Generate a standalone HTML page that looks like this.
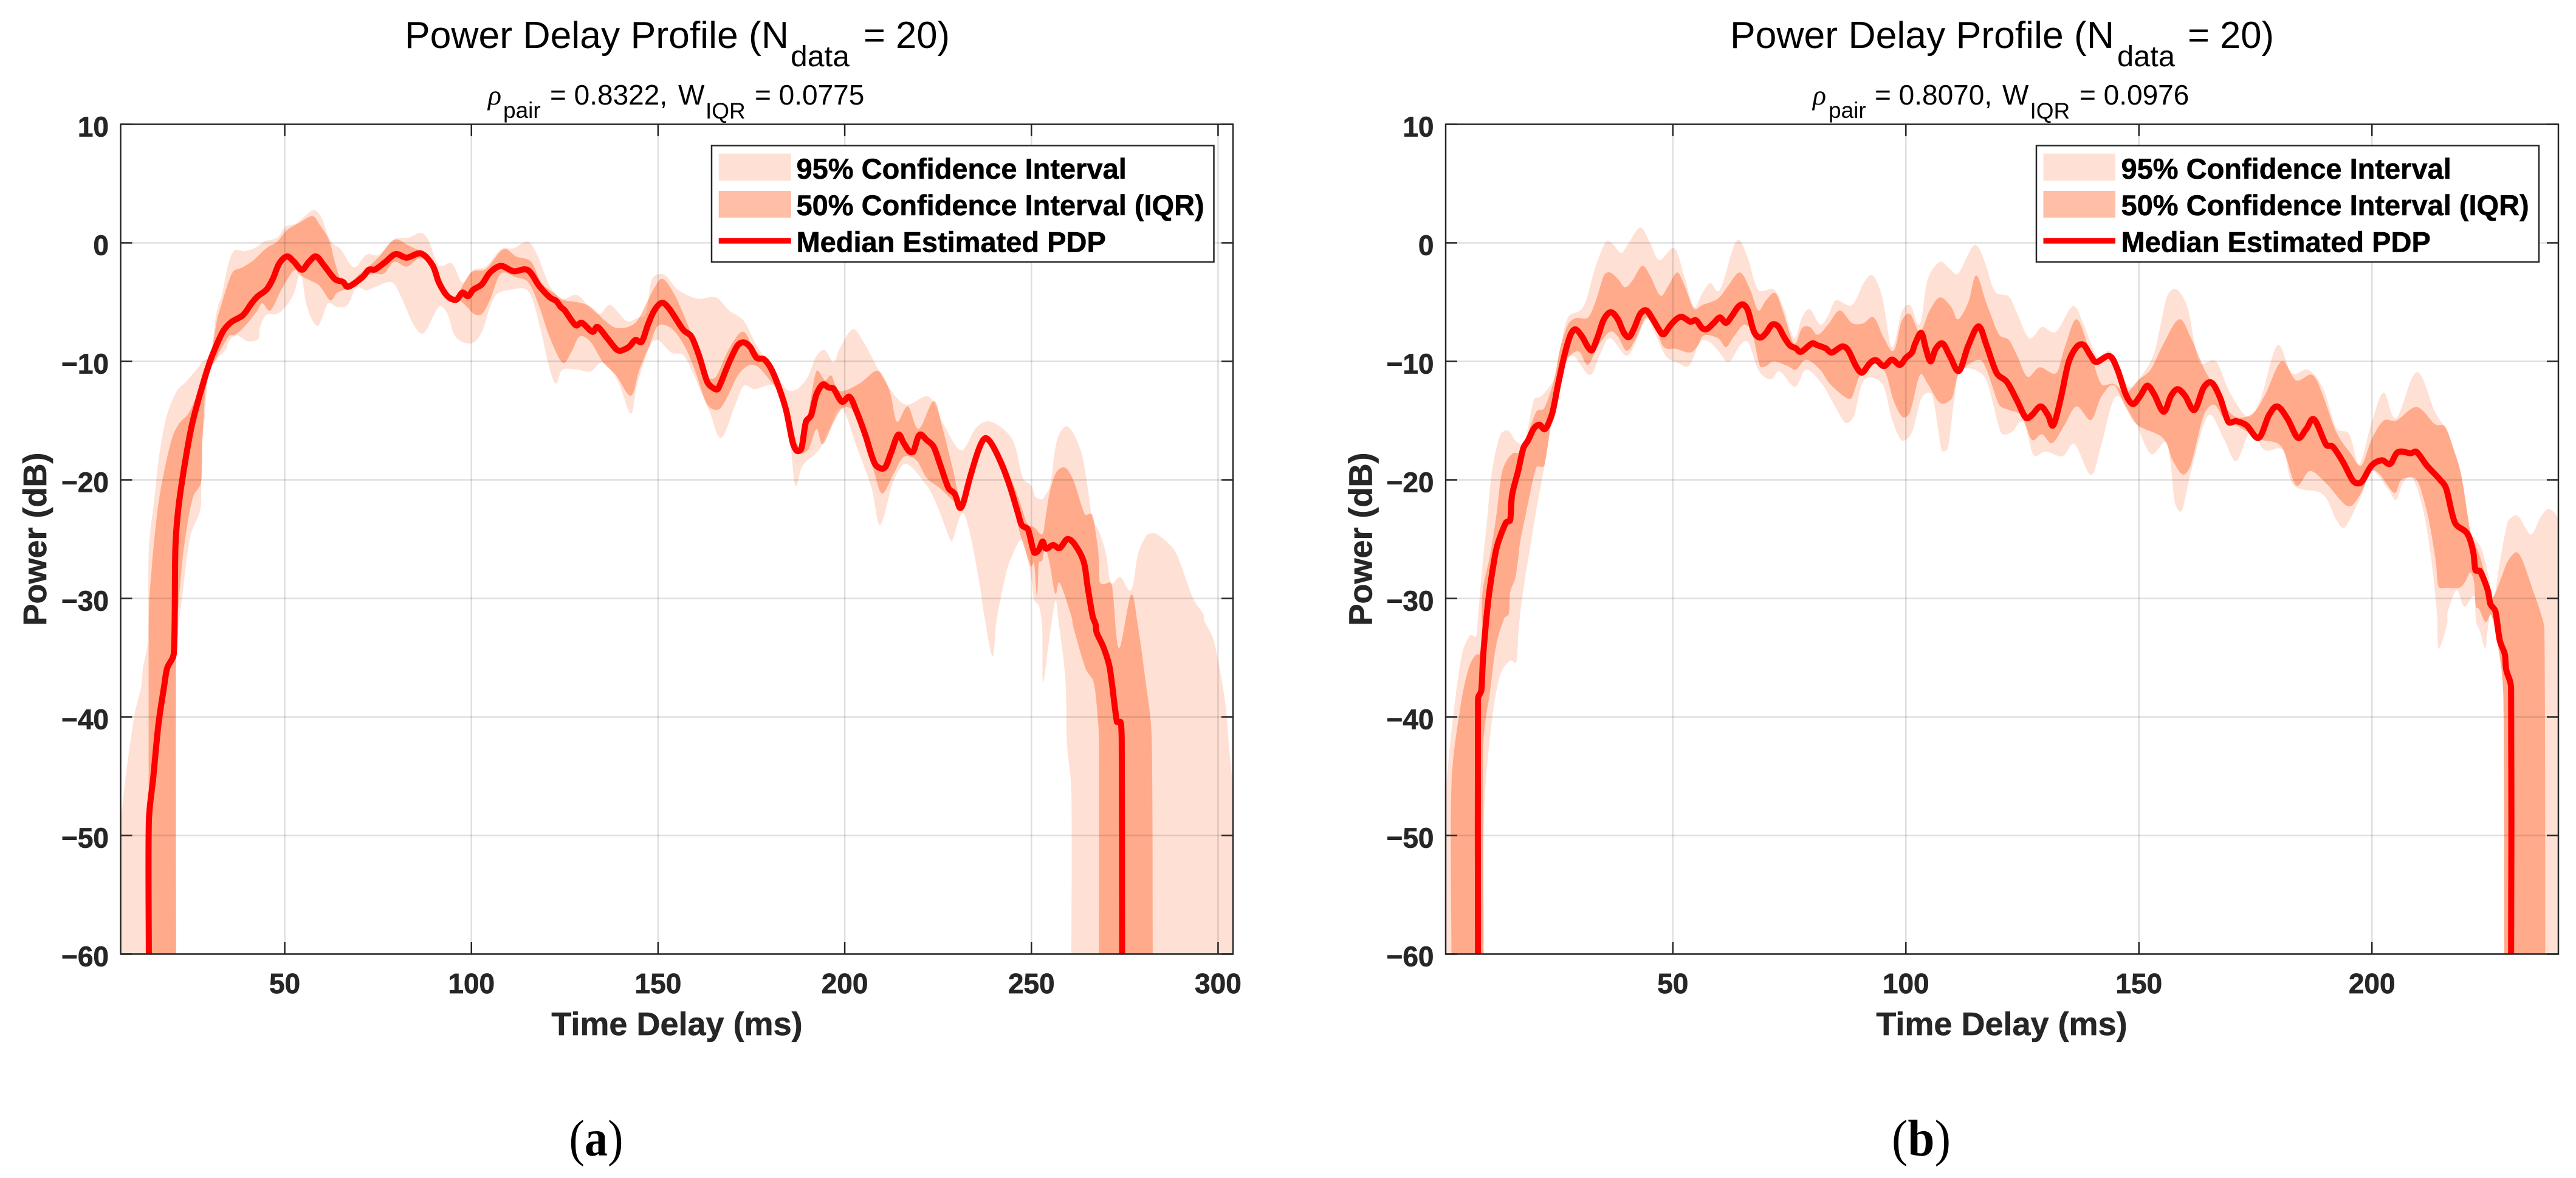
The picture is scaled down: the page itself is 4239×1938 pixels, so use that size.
<!DOCTYPE html>
<html lang="en">
<head>
<meta charset="utf-8">
<title>Power Delay Profile</title>
<style>
html,body{margin:0;padding:0;background:#fff;}
#figure{display:block;}
text{font-family:"Liberation Sans",sans-serif;}
.tick-label{font-weight:bold;font-size:46px;fill:#262626;stroke:#262626;stroke-width:0.7px;}
.axis-label{font-weight:bold;font-size:54px;fill:#262626;stroke:#262626;stroke-width:0.6px;}
.title{font-size:62px;fill:#000;}
.title-sub{font-size:48px;fill:#000;}
.subtitle{font-size:46px;fill:#000;}
.subtitle-sub{font-size:37px;fill:#000;}
.legend-text{font-weight:bold;font-size:47px;fill:#000;stroke:#000;stroke-width:0.6px;}
.caption{font-family:"Liberation Serif",serif;font-size:85px;fill:#000;}
</style>
</head>
<body>
<svg id="figure" xmlns="http://www.w3.org/2000/svg" width="4239" height="1938" viewBox="0 0 4239 1938">
<rect x="0" y="0" width="4239" height="1938" fill="#fff"/>

<g id="panel-a">
  <g id="panel-a-plot"></g>
  <text class="title" x="666" y="79" textLength="632" lengthAdjust="spacingAndGlyphs">Power Delay Profile (N</text>
  <text class="title-sub" x="1301" y="109" textLength="97" lengthAdjust="spacingAndGlyphs">data</text>
  <text class="title" x="1421" y="79" textLength="142" lengthAdjust="spacingAndGlyphs">= 20)</text>
  <text class="subtitle" x="803" y="172" font-style="italic" style="font-family:'Liberation Serif',serif">ρ</text>
  <text class="subtitle-sub" x="828" y="194">pair</text>
  <text class="subtitle" x="905" y="172">= 0.8322,</text>
  <text class="subtitle" x="1116" y="172">W</text>
  <text class="subtitle-sub" x="1161" y="195">IQR</text>
  <text class="subtitle" x="1242" y="172">= 0.0775</text>
  <text class="axis-label" x="1114" y="1703" text-anchor="middle">Time Delay (ms)</text>
  <text class="axis-label" x="0" y="0" text-anchor="middle" transform="translate(76 887) rotate(-90)">Power (dB)</text>
  <g>
    <rect x="1171" y="239.5" width="826.5" height="191.5" fill="#fff" stroke="#262626" stroke-width="2.5"/>
    <rect x="1182.7" y="252.7" width="119" height="44.6" fill="#ff4500" fill-opacity="0.17"/>
    <text class="legend-text" x="1310.5" y="294">95% Confidence Interval</text>
    <rect x="1182.7" y="314" width="119" height="44" fill="#ff4500" fill-opacity="0.35"/>
    <text class="legend-text" x="1310.5" y="354">50% Confidence Interval (IQR)</text>
    <rect x="1182.7" y="391.7" width="119" height="9" fill="#ff0000"/>
    <text class="legend-text" x="1310.5" y="414.5">Median Estimated PDP</text>
  </g>
  <text class="caption" x="936.5" y="1901" textLength="89" lengthAdjust="spacingAndGlyphs">(<tspan font-weight="bold">a</tspan>)</text>
</g>

<g id="panel-b">
  <g id="panel-b-plot"></g>
  <text class="title" x="2847" y="79" textLength="632" lengthAdjust="spacingAndGlyphs">Power Delay Profile (N</text>
  <text class="title-sub" x="3484" y="109" textLength="95" lengthAdjust="spacingAndGlyphs">data</text>
  <text class="title" x="3600" y="79" textLength="142" lengthAdjust="spacingAndGlyphs">= 20)</text>
  <text class="subtitle" x="2983" y="172" font-style="italic" style="font-family:'Liberation Serif',serif">ρ</text>
  <text class="subtitle-sub" x="3009" y="194">pair</text>
  <text class="subtitle" x="3085" y="172">= 0.8070,</text>
  <text class="subtitle" x="3295" y="172">W</text>
  <text class="subtitle-sub" x="3340.5" y="195">IQR</text>
  <text class="subtitle" x="3422" y="172">= 0.0976</text>
  <text class="axis-label" x="3294" y="1703" text-anchor="middle">Time Delay (ms)</text>
  <text class="axis-label" x="0" y="0" text-anchor="middle" transform="translate(2257.5 887) rotate(-90)">Power (dB)</text>
  <g>
    <rect x="3351" y="239.5" width="827" height="191.5" fill="#fff" stroke="#262626" stroke-width="2.5"/>
    <rect x="3362.5" y="252.7" width="118.5" height="44.6" fill="#ff4500" fill-opacity="0.17"/>
    <text class="legend-text" x="3490.5" y="294">95% Confidence Interval</text>
    <rect x="3362.5" y="314" width="118.5" height="44" fill="#ff4500" fill-opacity="0.35"/>
    <text class="legend-text" x="3490.5" y="354">50% Confidence Interval (IQR)</text>
    <rect x="3362.5" y="391.7" width="118.5" height="9" fill="#ff0000"/>
    <text class="legend-text" x="3490.5" y="414.5">Median Estimated PDP</text>
  </g>
  <text class="caption" x="3113" y="1901" textLength="97" lengthAdjust="spacingAndGlyphs">(<tspan font-weight="bold">b</tspan>)</text>
</g>
</svg>

<script>
// Tick labels (ms, dB)
const xTicksA = [50,100,150,200,250,300];
const xTicksB = [50,100,150,200];
const yTicks = [10,0,-10,-20,-30,-40,-50,-60];

// Panel (a) series: [time ms, power dB]
const medianA = [[13.6,-60],[13.6,-48.9],[14.8,-45.05],[16.2,-40.55],[17.7,-37.4],[18.5,-35.9],[20.3,-34.6],[20.7,-25.8],[21.5,-22.4],[23.1,-18.9],[25,-15.55],[26.9,-13.2],[28,-12],[29.3,-10.65],[30.7,-9.4],[33.4,-7.5],[35.6,-6.7],[38.8,-6.1],[41.1,-5.1],[42.8,-4.5],[45.1,-3.95],[46.8,-3.05],[48.5,-1.75],[50.6,-1.15],[52.5,-1.6],[54.6,-2.27],[56.5,-1.6],[58.4,-1.15],[60.5,-1.9],[63.4,-3.05],[65.6,-3.3],[67,-3.7],[70.8,-2.9],[72.5,-2.27],[74.2,-2.25],[77,-1.6],[79.7,-0.95],[82.7,-1.25],[86.5,-0.9],[89.6,-1.9],[91.3,-3.35],[93.6,-4.5],[95.9,-4.8],[97.6,-4.2],[99.1,-4.5],[100.5,-3.95],[102.8,-3.5],[105,-2.5],[107.9,-1.95],[111.3,-2.4],[115.1,-2.3],[118.2,-3.65],[121,-4.6],[122.7,-4.9],[123.9,-5.4],[125,-5.7],[127.9,-6.95],[129.6,-6.75],[132.4,-7.5],[133.8,-7.1],[136.4,-8.05],[138.7,-8.95],[139.9,-9.1],[142.1,-8.8],[143.9,-8.2],[145.6,-8.35],[147.3,-6.9],[149,-5.7],[151,-5.06],[153,-5.56],[156.7,-7.33],[158.9,-7.9],[161,-9.54],[163.2,-11.75],[165,-12.3],[166.1,-12.3],[169,-10.1],[171.3,-8.65],[173,-8.4],[174.7,-8.8],[176.4,-9.7],[178.4,-9.83],[180.4,-10.7],[182.7,-12.5],[184.4,-14.25],[186.1,-16.9],[187.2,-17.55],[188.4,-17.35],[189.6,-15.1],[191,-14.55],[192.4,-12.8],[194.1,-11.95],[195.6,-12.2],[197,-12.3],[199.2,-13.4],[201.3,-13],[203.2,-14.25],[205.5,-16.2],[208.1,-18.65],[210.6,-19],[212.3,-17.8],[214.3,-16.2],[215.8,-16.9],[217.3,-17.6],[218.4,-17.6],[220,-16.2],[222,-16.65],[223.8,-17.2],[225.5,-18.65],[227.8,-20.7],[229.5,-21.2],[230.8,-22.35],[231.8,-21.9],[233.5,-19.85],[235.8,-17.5],[237.5,-16.5],[239.2,-16.9],[242,-18.65],[244.2,-20.5],[246.4,-22.8],[247.4,-23.8],[249.1,-24.2],[250.7,-26.1],[252,-25.9],[253,-25.2],[253.9,-25.8],[255.8,-25.5],[257.6,-25.75],[259.6,-25],[261.5,-25.4],[264,-26.9],[265.1,-29.1],[266.4,-31.5],[267.2,-32.2],[267.5,-32.9],[269.4,-34.2],[271,-35.9],[272.9,-40.4],[273.9,-40.45],[274.2,-42.1],[274.3,-60]];

const upper95A = [[6.04,-60],[6.04,-49],[6.3,-48.2],[7.4,-45.05],[9.7,-39.9],[11.6,-37.4],[12,-35.9],[13.3,-33.6],[13.6,-25.8],[15,-21.8],[16.3,-18.1],[18.2,-14.8],[20.9,-12.6],[23.6,-11.7],[26.3,-10.7],[28,-10.05],[30.2,-9.4],[31.5,-6.3],[32.3,-5.15],[33.1,-4.5],[34.8,-1.9],[36.5,-0.65],[39.4,-0.7],[42.2,-0.4],[44.5,0.1],[48,0.45],[50.2,1.35],[53.1,1.65],[55.9,2.4],[58,2.75],[59.9,2.1],[62.2,0.2],[65,-0.55],[68.5,-2.05],[71.9,-1],[75.3,-1],[79.3,0.3],[83.3,0.45],[86.5,0.85],[88.5,0.2],[91.3,-1.9],[94.8,-1.75],[97.6,-3.35],[100.5,-2.3],[103.9,-2],[107.9,-0.55],[111.3,-0.45],[115.1,0.1],[117.6,-1],[121,-3.65],[124.4,-4.7],[128.3,-4.4],[131.9,-5.55],[134.5,-6],[137.2,-5.25],[141.6,-6.6],[144.4,-6.35],[146.7,-6],[148.4,-3.05],[151.7,-2.7],[155.3,-3.95],[160.4,-4.7],[165.5,-4.6],[169,-5.7],[173,-6.6],[176.4,-8.65],[181,-10.7],[184.4,-12.35],[187.2,-12.35],[190.1,-11.3],[192.4,-9.55],[194.7,-9.05],[197,-10.1],[198.6,-8.95],[202.1,-7.3],[205,-8.35],[209,-10.7],[211.8,-12.2],[216.4,-13.65],[222.6,-13],[226.6,-15.4],[231.2,-17.5],[235.2,-15.6],[239.2,-15.1],[244.9,-16.6],[247.7,-19.85],[250,-20.5],[251,-21.4],[252.9,-21.65],[253.3,-21.5],[255,-20.5],[256.9,-16.6],[259.7,-15.5],[263.2,-17.5],[265,-20.5],[266.2,-23.1],[268.3,-24.5],[270,-26.3],[271.3,-28.7],[273.8,-28.2],[276.7,-29.3],[278.6,-26.2],[280.8,-24.7],[282.2,-24.5],[283.8,-24.6],[287.9,-25.75],[289.8,-26.95],[293.3,-30],[296,-31.3],[296.3,-31.9],[298.7,-33.4],[300.3,-35.75],[302,-39],[302.8,-42],[304,-47],[304,-60]];

const lower95A = [[20.9,-60],[20.9,-35.9],[21.5,-32.6],[22.6,-29.7],[24.7,-24.8],[27.4,-22.5],[27.6,-20.2],[27.9,-16.9],[28.5,-15],[29.6,-11],[31.8,-9.86],[34.4,-8.9],[35,-8.3],[37.2,-7.8],[40.1,-8.3],[42.9,-8.1],[43.4,-7.1],[45,-6.1],[47.9,-6],[50.2,-5.4],[52.5,-4.25],[54.2,-2.5],[56,-5.4],[58.8,-7],[61.6,-5.1],[63.9,-5.4],[66.8,-5.25],[69.1,-3.8],[71.9,-4],[74.8,-3.65],[78.8,-3.35],[81.6,-4.85],[84.5,-6.9],[87.3,-7.6],[91.3,-5.4],[93.6,-6],[95.7,-7.9],[99.9,-8.5],[102.8,-7.5],[106.2,-4.55],[110.7,-3.95],[115.3,-4.1],[118.2,-6.9],[121,-10.7],[122.7,-11.9],[124.4,-10.7],[128.3,-10.7],[131.9,-10.85],[135.3,-10.1],[139.3,-11.75],[142.7,-14.4],[144.4,-11.9],[147.9,-8.65],[150,-8.2],[153.5,-9.25],[157,-9.55],[161,-12.2],[163.8,-14.25],[166.9,-16.45],[170.7,-13.65],[173,-12.05],[175.8,-12.35],[180.4,-12],[182.7,-12.9],[185,-15.4],[186.7,-20.45],[188.7,-18.8],[193,-17.5],[195.8,-15.7],[199.2,-13.95],[203.2,-17.2],[207.2,-20.7],[209.5,-23.8],[213,-20.15],[216.4,-18.65],[221.5,-20.3],[224.4,-21.9],[228.4,-25.15],[229,-25],[231.5,-22.8],[233.6,-24.6],[236.3,-29.1],[237.4,-31.5],[239.6,-34.9],[240.7,-31.8],[243.1,-28],[244.7,-26.5],[247.4,-25],[249.1,-26.9],[250.2,-28.75],[250.7,-30.1],[252,-30.6],[252.9,-32.5],[253.1,-37.1],[254.8,-33.4],[256.4,-30.2],[257.2,-31.8],[259.1,-36.8],[259.5,-42.1],[260.7,-46.4],[260.7,-60]];

const upper50A = [[13.6,-60],[13.6,-31.6],[14.4,-27.3],[16,-22.4],[17.7,-19.3],[19.8,-16.5],[21.7,-15.25],[24.2,-14.4],[26.3,-13],[28.6,-11.6],[30.2,-9.4],[31.2,-7.7],[32,-6.3],[33.1,-5.15],[33.7,-4.5],[36,-2.5],[38.8,-2.05],[41.7,-1.45],[45.1,-0.45],[48,0.1],[50.5,1.05],[53.7,1.65],[57.4,2.25],[59.4,1.5],[61.9,0.2],[63.4,-1.6],[65.1,-3.2],[67,-3.7],[69.6,-2.75],[71.9,-2.2],[75.3,-1.15],[79.3,0.25],[83.3,-0.25],[86.8,-0.85],[89.6,-1.9],[91.3,-3.35],[93.6,-4.4],[95.9,-4.5],[99.9,-2.5],[103.9,-2.2],[108.5,-0.55],[112,-1.15],[116,-1.6],[118.7,-3.35],[122.2,-4.25],[124.4,-4.8],[129,-5.05],[131.9,-5.4],[135.9,-6.6],[139.3,-7.2],[143.9,-6.75],[147.3,-4.85],[149,-3.8],[151.3,-3.05],[154.7,-4.55],[158.7,-7.5],[161,-9.54],[163.2,-11.3],[165.5,-11.3],[169,-8.95],[172.7,-7.5],[175.8,-8.95],[180.4,-10.55],[183.2,-12.65],[185,-14.25],[187.8,-17.2],[190.1,-14.55],[192.4,-10.85],[194.7,-11.6],[196.4,-11.2],[198.6,-12.5],[203.8,-11.9],[208.4,-10.8],[210.6,-11.45],[212.3,-12.8],[214,-15.1],[216.9,-13.8],[219.8,-15.7],[223.8,-13.35],[226,-15.4],[228.9,-19],[231.2,-21.9],[233.5,-19.85],[237.5,-16.45],[239.8,-16.9],[242.6,-18.4],[246.6,-21.6],[248.9,-23.7],[250.7,-24],[252.9,-24.6],[253.7,-23.4],[255,-20.9],[256.9,-19.25],[259.2,-19],[261.4,-20.15],[264.3,-22.9],[266.2,-22.9],[267,-24],[268,-26.35],[268.3,-28.6],[269.4,-28.8],[271.3,-28.7],[271.9,-29.8],[273.5,-34.2],[276.7,-29.7],[278.6,-32.5],[280.5,-36.8],[282.2,-41.7],[282.5,-60]];

const lower50A = [[20.9,-60],[20.9,-34.6],[22.3,-27.7],[23.9,-23.8],[25.5,-21.4],[27.6,-20.2],[27.9,-16.9],[28.3,-14.6],[28.8,-12.4],[30.2,-10.65],[31.5,-9.8],[35,-7.9],[36.9,-7.7],[39.4,-7],[42.6,-5.75],[44,-5.1],[46.2,-5.7],[49.1,-3.95],[52.5,-2.3],[54.2,-2.75],[57,-3.2],[59.4,-3.65],[62.2,-4.85],[63.9,-4.25],[66.8,-3.8],[70.2,-3.05],[73.6,-2.6],[76.5,-2.6],[79.3,-1.6],[82.7,-2],[86.2,-1.3],[89.6,-2],[91.3,-3.5],[93.6,-4.7],[96.5,-4.8],[98.8,-5.4],[100.7,-6],[102.8,-6],[105,-4.8],[107.9,-2.6],[111.9,-2.9],[115.3,-3.35],[118.2,-5.4],[121,-8],[124.4,-10.1],[126.7,-9.25],[129,-7.9],[131.9,-8.35],[135.3,-10.1],[138.7,-11.15],[142.7,-12.9],[145,-10.7],[147.9,-8.5],[150,-7],[153.5,-7.2],[157,-8.65],[159.8,-10.7],[163.2,-13.65],[166.7,-13.95],[171.8,-11],[175.8,-10.3],[180.4,-11.75],[182.7,-12.8],[185,-15.15],[186.7,-17.6],[190.1,-17.5],[192.4,-15.7],[194.1,-17],[197,-15.15],[199.2,-14],[201.5,-13.95],[203.8,-14.85],[206,-17.2],[207.8,-19.25],[210,-21.15],[213,-19.55],[215.8,-18.05],[219.2,-18.35],[222,-19.85],[225.5,-20.7],[229.5,-21.9],[231.2,-22.5],[233.5,-20.15],[237.5,-16.75],[239.8,-17.35],[242.6,-19.25],[244.9,-21.6],[246.4,-23.8],[247.4,-25],[249.9,-27.3],[250.7,-27],[251.5,-29.8],[252,-27],[252.9,-26.8],[253.7,-25.8],[254.8,-26.9],[256.4,-29.6],[257.6,-28.7],[260.7,-31.5],[261.3,-32.5],[264.5,-35.9],[266.7,-37.1],[267.8,-40.2],[268.1,-42.1],[268.1,-60]];

// Panel (b) series: [time ms, power dB]
const medianB = [[8.2,-60],[8.2,-38.45],[8.9,-37.75],[9.35,-34.6],[10.4,-30.15],[11.7,-26.7],[12.5,-25.3],[14.2,-23.6],[15.1,-23.4],[15.5,-21.3],[16.8,-19.25],[17.9,-17.35],[18.95,-16.65],[20.2,-15.65],[21.4,-15.35],[22.6,-15.7],[24.1,-14.4],[25.4,-11.9],[26.7,-9.55],[28,-7.8],[29.1,-7.3],[30.5,-7.9],[31.8,-8.8],[32.7,-9.05],[34,-7.8],[35.2,-6.45],[36.7,-5.85],[38.2,-6.45],[39.5,-7.6],[40.6,-7.95],[41.7,-7.2],[43,-6],[44.3,-5.7],[45.7,-6.45],[47.3,-7.5],[48.1,-7.7],[49.4,-7],[50.7,-6.45],[52,-6.25],[53.7,-6.65],[55,-6.55],[56.3,-7.2],[57.4,-7.25],[58.8,-6.75],[60.1,-6.3],[61.4,-6.75],[62.7,-6.15],[64,-5.4],[65.1,-5.2],[66.1,-5.7],[67.4,-7.5],[68.7,-8],[70,-7.6],[71.3,-6.9],[72.6,-7.05],[73.8,-7.9],[75.1,-8.65],[76.4,-8.9],[77.5,-9.2],[79.8,-8.5],[81.1,-8.65],[82.8,-8.9],[84.1,-9.25],[86.3,-8.75],[87.6,-9.05],[89.3,-10.4],[90.6,-10.95],[92.3,-10.15],[93.6,-9.9],[95.3,-10.4],[97,-9.85],[98.7,-10.3],[100,-9.7],[101.3,-9.25],[102,-8.5],[103.3,-7.6],[104.3,-8.95],[105.3,-10],[106.4,-8.95],[107.9,-8.5],[109.5,-9.6],[111.4,-10.8],[113.4,-8.65],[115.6,-7.05],[117.3,-8.65],[119.5,-11],[121.7,-11.75],[123.9,-13.35],[125.7,-14.75],[127,-14.55],[128.9,-13.8],[130.5,-14.55],[131.6,-15.4],[133.1,-13.35],[134.9,-10.1],[136.6,-8.8],[138.1,-8.6],[139.7,-9.55],[140.9,-10.05],[143.7,-9.55],[145.4,-10.7],[147.2,-12.8],[148.7,-13.6],[150.3,-12.9],[151.8,-12.05],[153.3,-12.8],[155.3,-14.25],[156.9,-12.9],[158.3,-12.35],[159.9,-12.9],[161.9,-14.1],[163.9,-12.2],[165.6,-11.8],[167.4,-13.05],[169.2,-15.1],[170.9,-15.05],[173.1,-15.4],[175.7,-16.45],[177.9,-14.55],[179.7,-13.8],[181.9,-14.85],[184.1,-16.45],[185.9,-15.7],[187.6,-14.9],[190.2,-17.05],[191.6,-17.2],[193.8,-18.5],[196,-20.1],[197.7,-20.2],[199.9,-18.8],[202.1,-18.35],[203.9,-18.65],[205.6,-17.65],[208.3,-17.75],[209.6,-17.65],[211.8,-18.8],[214.3,-19.85],[215.9,-20.7],[217.8,-23.6],[220.4,-24.5],[221.7,-26],[222.2,-27.6],[223.2,-27.7],[224.8,-29.25],[225.4,-30.45],[226.5,-31.1],[227.4,-33.5],[228.5,-34.7],[228.8,-36],[229.85,-37.55],[229.85,-60]];

const upper95B = [[1.26,-60],[1.26,-47],[1.63,-44.65],[3.1,-39.15],[4.8,-34.65],[6.5,-33.1],[7.8,-33.2],[8.2,-31.5],[9.1,-27.4],[10,-24],[11.2,-19.25],[13,-16.2],[14.7,-15.85],[16.4,-16.75],[18.1,-16.9],[20.2,-13.2],[21.5,-13],[22.8,-12.5],[24.5,-11.45],[25.8,-8.95],[27.5,-6.3],[30.1,-5.7],[31.4,-4.85],[33.5,-1.9],[35.7,0.1],[37.1,-0.1],[38.9,-0.85],[40.4,-0.1],[43,1.3],[45.1,0],[47.1,-1.45],[50.3,-0.45],[52.4,-2.75],[54.5,-5.4],[56.3,-4.25],[58,-3.4],[59.7,-4.1],[61,-3.05],[62.7,-0.7],[64.2,0.25],[66.1,-1.3],[68.3,-3.95],[71.7,-3.95],[73.8,-5.55],[76,-8.05],[77.7,-6.3],[79.4,-5.6],[81.6,-6.9],[83.3,-6.15],[85,-4.85],[88.4,-5.25],[91,-3.35],[92.9,-2.75],[94.9,-4.55],[97,-8.8],[99.1,-5.85],[100.9,-5.25],[103,-6.9],[104.7,-3.05],[107.3,-1.6],[109.4,-2.2],[111.2,-2.6],[114.7,-0.2],[116.9,-1.6],[119.1,-4.1],[122.1,-4.55],[123.9,-6],[126.5,-8.05],[129.2,-7.1],[132.2,-7.5],[135.8,-5.35],[138,-6.75],[141,-9.55],[143.7,-9.1],[145.4,-10.4],[148.1,-12.2],[150.7,-11.15],[153.3,-9.25],[156,-4.55],[158,-3.9],[160.4,-5.4],[163,-10.1],[166.5,-10],[169.6,-12.7],[173.5,-14.7],[176.2,-13.05],[179.7,-8.65],[182.8,-11],[186.3,-10.7],[189.4,-12.2],[192.4,-15.65],[195.1,-16.1],[197.3,-18.65],[199.9,-15.2],[202.5,-12.65],[205.2,-14.8],[209.6,-10.9],[213.5,-14.25],[216.2,-16],[219.1,-19.5],[221.1,-24.3],[222.2,-25],[223.5,-25.8],[224.8,-27.7],[226.1,-29.9],[227.4,-27],[229.1,-23.6],[230.6,-23],[231.7,-23.2],[234.1,-24.6],[236.1,-23.2],[238,-22.45],[240,-23.5],[240,-60]];

const lower95B = [[9.5,-60],[9.5,-48.1],[11.2,-40.2],[13,-36.4],[15.1,-35.25],[16.4,-35.4],[17,-32.2],[18.1,-28.75],[19.4,-25.65],[20.7,-22.5],[22.4,-18.95],[24.1,-14.85],[25.8,-11.9],[27.1,-10.1],[28.8,-9.55],[32.2,-11.15],[34.4,-9.4],[36.5,-8.05],[39.9,-9.5],[41.7,-8.65],[44.3,-6.45],[46,-7.5],[48.5,-9.55],[51,-10.1],[53.4,-10.4],[55.4,-8.65],[56.3,-8.2],[58,-8.4],[59.7,-9.1],[62,-10.05],[64.4,-8.65],[66.1,-8.35],[68.3,-10.7],[70,-11.4],[71.3,-11.45],[73,-10.85],[76.2,-12.15],[78.6,-10.7],[82,-11.9],[85,-13.95],[87.1,-15.2],[88.9,-14.55],[91,-11.6],[94.9,-11.9],[97,-14.85],[99.1,-16.65],[101.3,-16],[103.4,-13.05],[105.6,-12.8],[107.7,-17.5],[109,-17.35],[110.3,-13.4],[111.6,-10.85],[114.7,-10.7],[117.3,-11.6],[120.4,-16],[122.6,-16],[125.2,-15.1],[127.4,-17.9],[130,-17.6],[133.6,-18],[136.2,-17],[139.7,-19.6],[141.9,-17.1],[145,-13],[148.9,-14.85],[152.5,-17.8],[156,-16.9],[157.7,-21.9],[159.2,-22.6],[161.2,-19.25],[163.9,-15.3],[165.6,-14.55],[168.3,-16.6],[170.9,-18.4],[173.9,-16],[177,-17.5],[180.9,-17.5],[183.2,-20.45],[189.4,-21.2],[192.4,-23.4],[194.2,-24],[197.7,-21.35],[199.9,-19.2],[203.4,-20.75],[205.2,-21.7],[206.7,-20.2],[208.7,-19.85],[210.9,-22.4],[212.6,-26.35],[213.9,-31],[214.3,-34.2],[216.1,-32.2],[216.3,-31.1],[218.2,-29.3],[219.8,-30.7],[221.9,-29.8],[222.3,-31.9],[223.2,-32.8],[224.3,-34.2],[224.8,-32.7],[225.6,-31.4],[227.4,-34.55],[228.2,-38.3],[228.4,-60]];

const upper50B = [[2.5,-60],[2.5,-45.7],[4.4,-39.2],[6.1,-36],[7.6,-34.8],[9.1,-34.6],[9.1,-29.8],[10.8,-26.3],[12.1,-23.1],[13.4,-19.25],[15.5,-17.8],[17.7,-17.7],[18.5,-16.6],[20.7,-14.25],[22.4,-13.95],[24.5,-11.6],[25.8,-8.95],[27.5,-6.9],[29.2,-6.35],[31.8,-6.3],[33.5,-4.85],[35.2,-2.75],[36.5,-2.5],[38.2,-3.05],[39.7,-3.75],[41.3,-3.2],[43.4,-1.95],[45.1,-2.75],[47.3,-4.45],[49,-3.65],[50.9,-2.5],[52.4,-3.5],[54.5,-5.55],[56.3,-5.25],[59.7,-4.7],[61.8,-3.65],[64.4,-2.5],[66.6,-3.95],[68.3,-5.7],[70,-4.85],[72,-4.25],[73.8,-6],[76,-8.5],[77.7,-7.2],[79.4,-7.1],[81.1,-7.75],[83.3,-6.9],[85.8,-5.7],[88.4,-6.75],[90.8,-6.8],[93.1,-6.3],[95.3,-8.05],[97.4,-9.1],[99.1,-6.6],[100.9,-6],[103,-7.5],[105.1,-5.7],[107.3,-4.6],[109.7,-5.4],[111.2,-6.45],[113.4,-5],[115.1,-2.75],[117.3,-5.1],[120,-7.75],[122.1,-8.2],[123.9,-9.55],[126.1,-11.3],[128.7,-10.5],[132.2,-11],[134,-8.95],[136.6,-6.45],[139.3,-8.95],[141.9,-11.9],[144.6,-11.9],[147.2,-12.65],[149.8,-11.6],[152.5,-10.7],[155.1,-8.65],[158.6,-6.45],[161.2,-8.05],[163.9,-10.55],[165.6,-11.75],[168.3,-13.65],[170.9,-14.7],[174.4,-14.4],[177.1,-12.8],[180.6,-10],[183.7,-11.6],[187.2,-11.15],[189.4,-12.8],[192.4,-16],[195.5,-17.8],[197.7,-18.8],[199.9,-16.6],[202.5,-15],[205.2,-15],[209.6,-13.85],[213.5,-15.3],[215.7,-15.5],[217.5,-17.4],[219.1,-19.5],[221.1,-24.3],[222,-25.3],[223.2,-26.5],[224.8,-28.7],[225.9,-29.9],[227.8,-28.2],[229.1,-26.9],[230.9,-26.1],[232.2,-26.7],[234.8,-29.6],[236.1,-31.1],[237,-32.7],[237.2,-60]];

const lower50B = [[9.35,-60],[9.35,-42.4],[10.8,-37.75],[12.1,-33.95],[13.8,-31.7],[14.8,-31.3],[15.1,-29.5],[16.2,-28.25],[16.8,-26.7],[17.2,-25.3],[18.5,-22.8],[20.7,-18.95],[22.4,-18.8],[24.1,-14.55],[25.4,-12.2],[26.7,-10.1],[28.8,-9.25],[30.1,-9.25],[31.8,-10.3],[34,-8.65],[36.5,-7.5],[38.2,-7.9],[40.1,-9.1],[42.1,-8.05],[44.3,-6.3],[46.4,-7.35],[48.1,-8.8],[50.7,-8.95],[53.7,-9.25],[55.4,-8.65],[56.7,-7.8],[59.7,-8.05],[61.4,-8.8],[63.1,-7.9],[65.3,-6.9],[67,-7.6],[68.7,-10.4],[70,-10.4],[71.7,-10],[74.7,-10.4],[76.4,-10.7],[78.6,-9.85],[81.6,-10.7],[83.7,-11.9],[87.1,-13.05],[88.4,-13.05],[90.1,-11.15],[92,-10.2],[95.3,-10.7],[97.4,-13.35],[99.3,-14.7],[100.9,-14.25],[103,-11.15],[104.7,-11.9],[107.3,-13.5],[109.7,-13.2],[110.5,-12.2],[111.6,-10.85],[115.6,-9.85],[117.3,-10.7],[120,-13.65],[122.1,-14.1],[124.8,-14.55],[127,-16.6],[129.2,-16.15],[131.4,-16.9],[134,-15.4],[136.6,-13.8],[139.7,-14.95],[141.9,-13],[144.6,-12],[147.2,-13.9],[149.8,-15.4],[155.1,-16.45],[157.3,-18.4],[159.5,-19.55],[161.2,-18.65],[163.9,-14.55],[166.1,-13.65],[168.3,-14.85],[170.9,-15.4],[173.5,-16],[176.2,-16.6],[180.6,-17.2],[183.7,-20.45],[186.7,-19.25],[190.2,-20.3],[194.7,-22.2],[197.3,-21.35],[199.9,-19.25],[201.7,-19.55],[204.8,-21.1],[206.3,-20],[209.1,-19.85],[210.4,-20.7],[212.2,-23.4],[213.7,-26.9],[214.3,-29],[216.1,-29.1],[218.7,-29.1],[220,-28.6],[221.1,-27.8],[221.9,-28.6],[222.3,-30.7],[223,-30.9],[224.4,-32],[225.6,-31.4],[227.2,-34.4],[228.2,-38.3],[228.4,-60]];

const SVG_NS = 'http://www.w3.org/2000/svg';

function svgEl(tag, attrs, parent) {
  const el = document.createElementNS(SVG_NS, tag);
  for (const k in attrs) el.setAttribute(k, attrs[k]);
  parent.appendChild(el);
  return el;
}

function makeAxis(dMin, dMax, pMin, pMax) {
  return function (v) { return pMin + (v - dMin) / (dMax - dMin) * (pMax - pMin); };
}

// Catmull-Rom style smoothing with limited handles so vertical drops stay straight
function curveSegments(pts) {
  let d = '';
  for (let i = 0; i < pts.length - 1; i++) {
    const p0 = pts[Math.max(i - 1, 0)], p1 = pts[i], p2 = pts[i + 1], p3 = pts[Math.min(i + 2, pts.length - 1)];
    const seg = Math.hypot(p2[0] - p1[0], p2[1] - p1[1]);
    const l1 = Math.hypot(p2[0] - p0[0], p2[1] - p0[1]) || 1;
    const l2 = Math.hypot(p3[0] - p1[0], p3[1] - p1[1]) || 1;
    const k1 = Math.min(1 / 6, 0.4 * seg / l1);
    const k2 = Math.min(1 / 6, 0.4 * seg / l2);
    const c1x = p1[0] + (p2[0] - p0[0]) * k1, c1y = p1[1] + (p2[1] - p0[1]) * k1;
    const c2x = p2[0] - (p3[0] - p1[0]) * k2, c2y = p2[1] - (p3[1] - p1[1]) * k2;
    d += ' C' + c1x.toFixed(1) + ' ' + c1y.toFixed(1) + ' ' + c2x.toFixed(1) + ' ' + c2y.toFixed(1) + ' ' + p2[0].toFixed(1) + ' ' + p2[1].toFixed(1);
  }
  return d;
}

function drawPanel(cfg) {
  const root = document.getElementById(cfg.id + '-plot');
  const xOf = makeAxis(cfg.xDomain[0], cfg.xDomain[1], cfg.left, cfg.right);
  const yOf = makeAxis(-60, 10, cfg.bottom, cfg.top);
  const toPx = function (p) { return [xOf(p[0]), yOf(p[1])]; };
  const w = cfg.right - cfg.left, h = cfg.bottom - cfg.top;

  const defs = svgEl('defs', {}, root);
  const clip = svgEl('clipPath', { id: cfg.id + '-clip' }, defs);
  svgEl('rect', { x: cfg.left, y: cfg.top, width: w, height: h }, clip);

  const bands = svgEl('g', { 'clip-path': 'url(#' + cfg.id + '-clip)' }, root);
  
  

  const bandPath = function (upper, lower) {
    const u = upper.map(toPx);
    const l = lower.map(toPx).reverse();
    return 'M' + u[0][0].toFixed(1) + ' ' + u[0][1].toFixed(1) + curveSegments(u) +
      ' L' + l[0][0].toFixed(1) + ' ' + l[0][1].toFixed(1) + curveSegments(l) + ' Z';
  };

  const band95 = svgEl('path', { d: bandPath(cfg.upper95, cfg.lower95), fill: '#ff4500', 'fill-opacity': 0.17 }, bands);
  
  

  const band50 = svgEl('path', { d: bandPath(cfg.upper50, cfg.lower50), fill: '#ff4500', 'fill-opacity': 0.35 }, bands);
  
  

  // Grid lines, drawn over the bands
  cfg.xTicks.forEach(function (t) {
    const line = svgEl('line', { x1: xOf(t), x2: xOf(t), y1: cfg.top, y2: cfg.bottom, stroke: '#262626', 'stroke-opacity': 0.15, 'stroke-width': 2.5 }, root);
    
    
  });
  yTicks.forEach(function (v) {
    const line = svgEl('line', { x1: cfg.left, x2: cfg.right, y1: yOf(v), y2: yOf(v), stroke: '#262626', 'stroke-opacity': 0.15, 'stroke-width': 2.5 }, root);
    
    
  });

  // Median line
  const m = cfg.median.map(toPx);
  const medianLine = svgEl('path', {
    d: 'M' + m[0][0].toFixed(1) + ' ' + m[0][1].toFixed(1) + curveSegments(m),
    fill: 'none', stroke: '#ff0000', 'stroke-width': 10, 'stroke-linejoin': 'round',
    'clip-path': 'url(#' + cfg.id + '-clip)'
  }, root);
  
  

  // Axes box
  const box = svgEl('rect', { x: cfg.left, y: cfg.top, width: w, height: h, fill: 'none', stroke: '#262626', 'stroke-width': 2.5 }, root);
  
  

  // X ticks and labels
  cfg.xTicks.forEach(function (t) {
    const px = xOf(t);
    const bottomTick = svgEl('line', { x1: px, x2: px, y1: cfg.bottom, y2: cfg.bottom - 19.5, stroke: '#262626', 'stroke-width': 2.5 }, root);
    
    
    const topTick = svgEl('line', { x1: px, x2: px, y1: cfg.top, y2: cfg.top + 19.5, stroke: '#262626', 'stroke-width': 2.5 }, root);
    
    
    const label = svgEl('text', { x: px, y: cfg.bottom + 64.5, 'text-anchor': 'middle', class: 'tick-label' }, root);
    label.textContent = String(t);
    
    
  });

  // Y ticks and labels
  yTicks.forEach(function (v) {
    const py = yOf(v);
    const leftTick = svgEl('line', { x1: cfg.left, x2: cfg.left + 19, y1: py, y2: py, stroke: '#262626', 'stroke-width': 2.5 }, root);
    
    
    const rightTick = svgEl('line', { x1: cfg.right, x2: cfg.right - 19, y1: py, y2: py, stroke: '#262626', 'stroke-width': 2.5 }, root);
    
    
    const label = svgEl('text', { x: cfg.left - 19.5, y: py + 20, 'text-anchor': 'end', class: 'tick-label' }, root);
    label.textContent = String(v).replace('-', '\u2212');
    
    
  });
}

drawPanel({
  id: 'panel-a', left: 198.5, right: 2029, top: 204.5, bottom: 1569.5,
  xDomain: [6.04, 304], xTicks: xTicksA,
  median: medianA, upper95: upper95A, lower95: lower95A, upper50: upper50A, lower50: lower50A
});
drawPanel({
  id: 'panel-b', left: 2379, right: 4210, top: 204.5, bottom: 1569.5,
  xDomain: [1.26, 240], xTicks: xTicksB,
  median: medianB, upper95: upper95B, lower95: lower95B, upper50: upper50B, lower50: lower50B
});
</script>
</body>
</html>
